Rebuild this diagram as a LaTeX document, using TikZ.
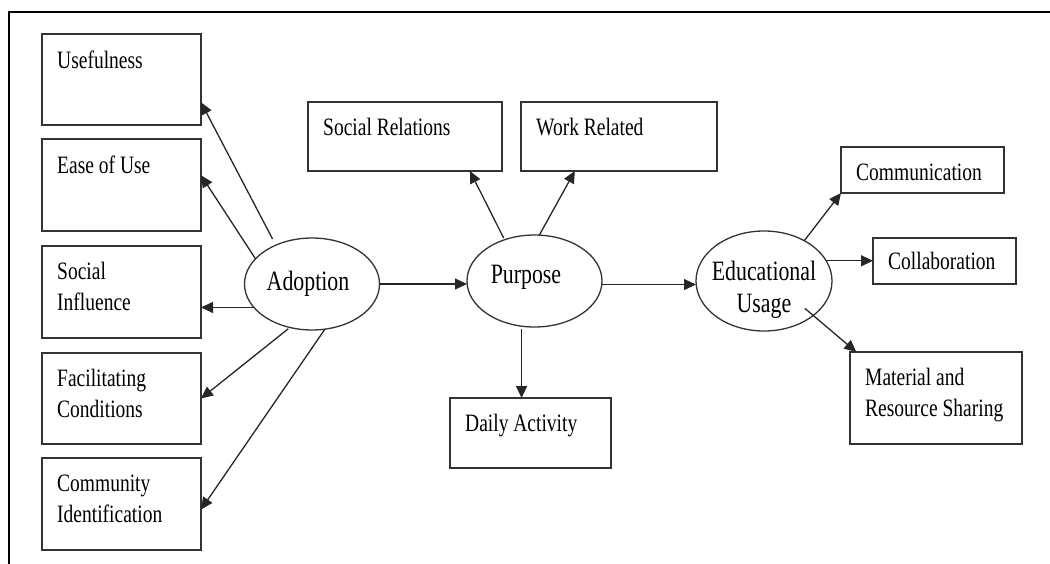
\documentclass[tikz,border=0pt]{standalone}
\usepackage{fontspec}
\setmainfont{Liberation Serif}
\newfontfamily\diagfont[FakeStretch=0.78]{Liberation Serif}
\usetikzlibrary{arrows.meta,shapes.geometric}
\begin{document}
\begin{tikzpicture}[x=1pt,y=-1pt,
  box/.style={draw=black!80, line width=1.5pt, rectangle, inner sep=0pt, outer sep=0pt},
  boxtxt/.style={anchor=north west, inner sep=0pt, align=left, xshift=15pt, yshift=-16.4pt, font=\diagfont\fontsize{25}{31}\selectfont},
  ell/.style={draw=black!80, line width=1.3pt, ellipse, inner sep=0pt, outer sep=0pt},
  elltxt/.style={inner sep=0pt, align=center, font=\diagfont\fontsize{28}{32}\selectfont},
  arr/.style={draw=black!85, line width=1.3pt, -{Triangle[length=12pt,width=11pt]}},
  frameline/.style={line width=2pt, draw=black}]
\useasboundingbox (0,0) rectangle (1050,564);
\draw[frameline] (1052,12) -- (9,12) -- (9,566);

% left boxes
\node[box, minimum width=159pt, minimum height=91pt, label={[boxtxt]north west:Usefulness}] (use) at (121.5,79.5) {};
\node[box, minimum width=159pt, minimum height=92pt, label={[boxtxt]north west:Ease of Use}] (ease) at (121.5,185) {};
\node[box, minimum width=159pt, minimum height=92pt, label={[boxtxt]north west:Social\\Influence}] (si) at (121.5,292) {};
\node[box, minimum width=159pt, minimum height=91pt, label={[boxtxt]north west:Facilitating\\Conditions}] (fc) at (121.5,398.5) {};
\node[box, minimum width=159pt, minimum height=92pt, label={[boxtxt]north west:Community\\Identification}] (ci) at (121.5,504) {};

% middle boxes
\node[box, minimum width=194pt, minimum height=69pt, label={[boxtxt]north west:Social Relations}] (sr) at (405,136.5) {};
\node[box, minimum width=196pt, minimum height=69pt, label={[boxtxt]north west:Work Related}] (wr) at (619,136.5) {};
\node[box, minimum width=161pt, minimum height=70pt, label={[boxtxt]north west:Daily Activity}] (da) at (530.5,433) {};

% right boxes
\node[box, minimum width=163pt, minimum height=46pt, label={[boxtxt]north west:Communication}] (com) at (922.5,170) {};
\node[box, minimum width=143pt, minimum height=46pt, label={[boxtxt, yshift=2pt]north west:Collaboration}] (col) at (944.5,261) {};
\node[box, minimum width=172pt, minimum height=92pt, label={[boxtxt]north west:Material and\\Resource Sharing}] (mat) at (936,398) {};

% ellipses
\node[ell, minimum width=135pt, minimum height=92pt, label={[elltxt, xshift=-4pt]center:Adoption}] (A) at (312,284) {};
\node[ell, minimum width=135pt, minimum height=92pt, label={[elltxt, xshift=-8.5pt, yshift=3.2pt]center:Purpose}] (P) at (534.5,281) {};
\node[ell, minimum width=136pt, minimum height=100pt, label={[elltxt, yshift=-9pt]center:Educational\\Usage}] (E) at (764,281) {};

% connectors
\draw[arr, shorten <=7pt] (A.133) -- (use.-16);
\draw[arr] (A.156) -- (ease.7);
\draw[arr] (A.202) -- (A.202 -| si.east);
\draw[arr, shorten <=2pt] (A.243) -- (fc.east);
\draw[arr] (A.-74) -- (ci.-4);
\draw[arr] (A.east) -- (A.east -| P.west);
\draw[arr, shorten <=2pt] (P.126) -- (sr.-28);
\draw[arr] (P.84) -- (wr.-142);
\draw[arr, shorten <=3pt] (P.254) -- (P.254 |- da.north);
\draw[arr] (P.-3) -- (P.-3 -| E.west);
\draw[arr] (E.45) -- (com.south west);
\draw[arr] (E.18) -- (E.18 -| col.west);
\draw[arr, shorten <=-11pt] (E.-35) -- (mat.150);
\end{tikzpicture}
\end{document}
